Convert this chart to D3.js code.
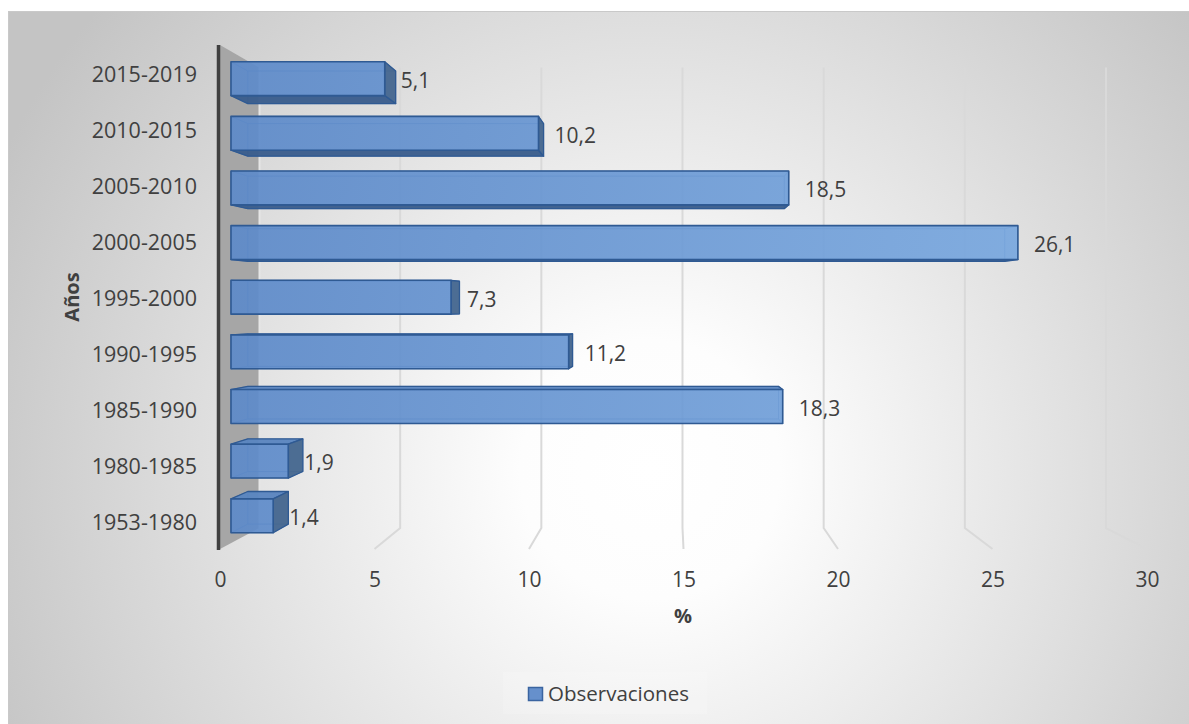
<!DOCTYPE html>
<html>
<head>
<meta charset="utf-8">
<script src="https://cdn.jsdelivr.net/npm/d3@7"></script>
<style>
  body { margin: 0; background: #fff; }
  svg { display: block; }
  text { font-family: "Open Sans", sans-serif; fill: #404040; }
</style>
</head>
<body>
<svg id="chart" width="1189" height="724"></svg>
<script>
// ---- data ----
const categories = ["1953-1980", "1980-1985", "1985-1990", "1990-1995", "1995-2000",
                    "2000-2005", "2005-2010", "2010-2015", "2015-2019"];
const values = [1.4, 1.9, 18.3, 11.2, 7.3, 26.1, 18.5, 10.2, 5.1];
const xTicks = [0, 5, 10, 15, 20, 25, 30];
const seriesName = "Observaciones";
const xTitle = "%";
const yTitle = "Años";

// ---- setup ----
const W = 1189, H = 724;
const svg = d3.select("#chart");
const defs = svg.append("defs");

const bg = defs.append("radialGradient").attr("id", "bgGrad")
  .attr("gradientUnits", "userSpaceOnUse")
  .attr("cx", 650).attr("cy", 470).attr("r", 720);
bg.append("stop").attr("offset", 0).attr("stop-color", "#ffffff");
bg.append("stop").attr("offset", 0.18).attr("stop-color", "#fdfdfd");
bg.append("stop").attr("offset", 1).attr("stop-color", "#c4c4c4");

const frontGrad = defs.append("linearGradient").attr("id", "frontGrad")
  .attr("gradientUnits", "userSpaceOnUse")
  .attr("x1", 230).attr("x2", 1020).attr("y1", 0).attr("y2", 0);
frontGrad.append("stop").attr("offset", 0).attr("stop-color", "#5e8bca");
frontGrad.append("stop").attr("offset", 1).attr("stop-color", "#7aa9e0");

svg.append("rect").attr("width", W).attr("height", H).attr("fill", "#fff");
svg.append("rect").attr("x", 8.5).attr("y", 11.5).attr("width", W).attr("height", H)
  .attr("fill", "url(#bgGrad)").attr("stroke", "#c9c9c9").attr("stroke-width", 1);

// ---- scales and perspective ----
const x = d3.scaleLinear().domain([0, 30]).range([220, 1147]);
const y = d3.scaleBand().domain(categories.slice().reverse())
  .range([45, 549]).paddingInner(0.38).paddingOuter(0.19);
const [yTop, yBottom] = y.range();

const vp = { x: 672, y: 306 };                 // vanishing point
const depth = { front: 1, barFront: 0.9757, barBack: 0.9386, back: 0.9137 };
const P = (v, py, s) => [vp.x + (x(v) - vp.x) * s, vp.y + (py - vp.y) * s];
const poly = pts => "M" + pts.map(p => p.join(",")).join("L") + "Z";

// ---- back wall gridlines + floor ----
const grid = svg.append("g");
xTicks.forEach(t => {
  const a = P(t, yTop, depth.back), b = P(t, yBottom, depth.back), c = P(t, yBottom, depth.front);
  grid.append("path")
    .attr("d", t === 0 ? `M${a}L${b}` : `M${a}L${b}L${c}`)
    .attr("fill", "none").attr("stroke", "#d9d9d9").attr("stroke-width", 2);
});

// ---- side wall ----
svg.append("path")
  .attr("d", poly([P(0, yTop, depth.front), P(0, yTop, depth.back),
                   P(0, yBottom, depth.back), P(0, yBottom, depth.front)]))
  .attr("fill", "#a6a6a6");
svg.append("line")
  .attr("x1", P(0, yTop, depth.back)[0] + 0.5).attr("x2", P(0, yBottom, depth.back)[0] + 0.5)
  .attr("y1", P(0, yTop, depth.back)[1]).attr("y2", P(0, yBottom, depth.back)[1])
  .attr("stroke", "#e6e6e6").attr("stroke-width", 2);
svg.append("line")
  .attr("x1", x(0) - 1.5).attr("x2", x(0) - 1.5)
  .attr("y1", yTop).attr("y2", yBottom + 1)
  .attr("stroke", "#404040").attr("stroke-width", 3.5);

// ---- 3D bars ----
const bars = svg.append("g");
const fmt = d3.formatLocale({ decimal: ",", thousands: ".", grouping: [3], currency: ["", "€"] }).format(".1f");

categories.forEach((cat, i) => {
  const v = values[i];
  const y0 = y(cat), y1 = y(cat) + y.bandwidth();
  const f = depth.barFront, b = depth.barBack;
  const F = { tl: P(0, y0, f), tr: P(v, y0, f), br: P(v, y1, f), bl: P(0, y1, f) };
  const B = { tl: P(0, y0, b), tr: P(v, y0, b), br: P(v, y1, b), bl: P(0, y1, b) };
  const g = bars.append("g");

  const faces = [
    { pts: [B.tl, B.tr, B.br, B.bl], vis: false },
    { pts: [F.tl, B.tl, B.bl, F.bl], vis: x(0) > vp.x },                // left
    { pts: [F.tl, F.tr, B.tr, B.tl], vis: y0 > vp.y, fill: "#5b86c0" }, // top
    { pts: [F.bl, F.br, B.br, B.bl], vis: y1 < vp.y, fill: "#3a5d8c" }, // bottom
    { pts: [F.tr, B.tr, B.br, F.br], vis: x(v) < vp.x, fill: "#46678f" } // right
  ];
  faces.filter(d => !d.vis).forEach(d => {
    g.append("path").attr("d", poly(d.pts))
      .attr("fill", "#3c66a2").attr("fill-opacity", 0.22)
      .attr("stroke", "#3c66a2").attr("stroke-opacity", 0.45).attr("stroke-width", 1);
  });
  faces.filter(d => d.vis).forEach(d => {
    g.append("path").attr("d", poly(d.pts))
      .attr("fill", d.fill).attr("fill-opacity", 0.95)
      .attr("stroke", "#2f5a93").attr("stroke-width", 1.3).attr("stroke-linejoin", "round");
  });
  g.append("path").attr("d", poly([F.tl, F.tr, F.br, F.bl]))
    .attr("fill", "url(#frontGrad)").attr("fill-opacity", 0.9)
    .attr("stroke", "#2f5a93").attr("stroke-width", 1.6).attr("stroke-linejoin", "round");

  svg.append("text")
    .attr("x", F.tr[0] + 16).attr("y", (F.tr[1] + F.br[1]) / 2 + 2)
    .attr("dy", "0.35em").attr("font-size", 21)
    .text(fmt(v));
});

// ---- axes ----
const xAxis = svg.append("g").attr("transform", "translate(0,580)")
  .call(d3.axisBottom(x).tickValues(xTicks).tickSize(0).tickPadding(0));
xAxis.select(".domain").remove();
xAxis.selectAll("text").attr("dy", "0.35em").attr("font-size", 21)
  .attr("font-family", null).style("fill", "#404040");

const yAxis = svg.append("g").attr("transform", "translate(197,2)")
  .call(d3.axisLeft(y).tickSize(0).tickPadding(0));
yAxis.select(".domain").remove();
yAxis.selectAll("text").attr("font-size", 21.5).attr("font-family", null).style("fill", "#404040");

svg.append("text").attr("x", 683).attr("y", 616).attr("dy", "0.35em")
  .attr("text-anchor", "middle").attr("font-size", 20).attr("font-weight", "bold")
  .text(xTitle);
svg.append("text").attr("transform", "translate(72,297) rotate(-90)").attr("dy", "0.35em")
  .attr("text-anchor", "middle").attr("font-size", 20).attr("font-weight", "bold")
  .text(yTitle);

// ---- legend ----
const legend = svg.append("g");
legend.append("rect").attr("x", 503).attr("y", 672).attr("width", 204).attr("height", 42)
  .attr("fill", "#ffffff").attr("fill-opacity", 0.15);
legend.append("rect").attr("x", 528.5).attr("y", 687.5).attr("width", 14).attr("height", 13)
  .attr("fill", "#6690cc").attr("stroke", "#3a64a0").attr("stroke-width", 1.5);
legend.append("text").attr("x", 548).attr("y", 694).attr("dy", "0.35em")
  .attr("font-size", 20.5).text(seriesName);
</script>
</body>
</html>
